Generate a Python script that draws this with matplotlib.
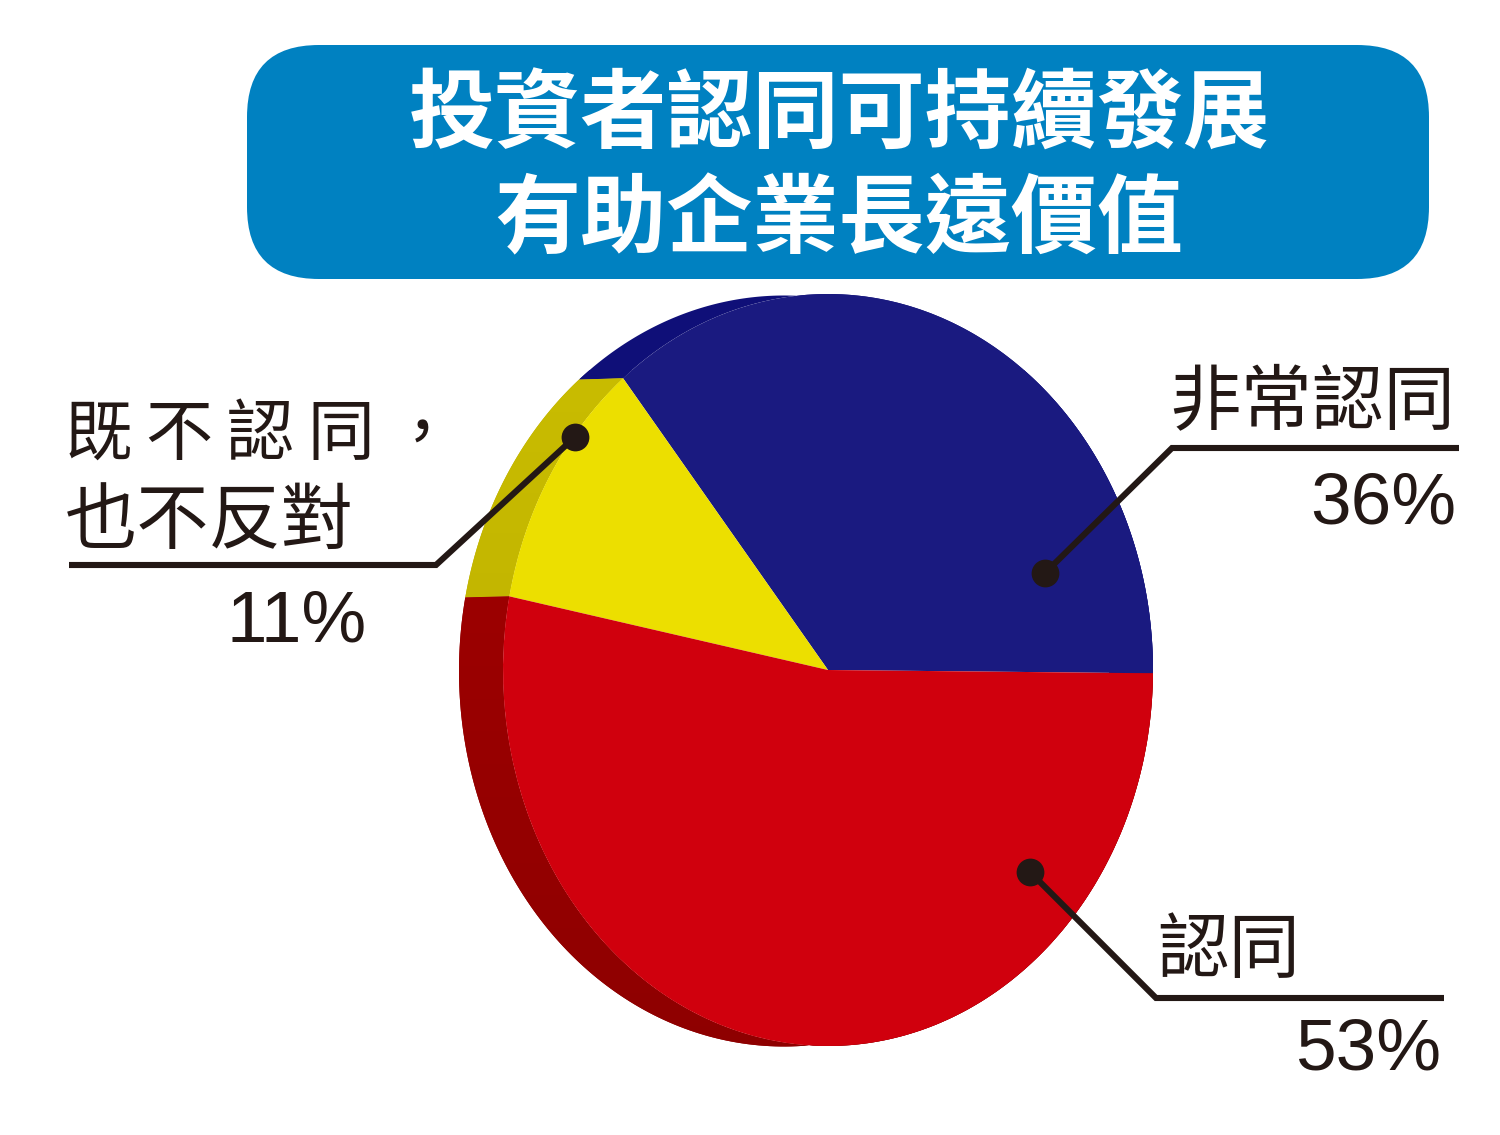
import matplotlib
matplotlib.use("Agg")
import matplotlib.pyplot as plt
from matplotlib.patches import FancyBboxPatch, Polygon
from matplotlib.colors import LinearSegmentedColormap
import numpy as np

# data
title_lines = ["投資者認同可持續發展", "有助企業長遠價值"]
shares = [36, 11, 53]
face_colors = ["#1a1a80", "#ecdf00", "#d0000d"]
side_tops = ["#0f0f78", "#c9bc00", "#a30000"]
side_bottoms = ["#0f0f78", "#b8ab00", "#8e0000"]
label_names = ["非常認同", "既\u2009不\u2009認\u2009同\u2009，", "也不反對", "認同"]
label_pcts = ["36%", "11%", "53%"]

W, H = 1500, 1135
INK = "#231815"
CJK = ["Noto Sans CJK TC", "DejaVu Sans"]
START = -0.5
CX, CY, RX, RY = 828, 670, 325, 376
DEPTH = 44

fig = plt.figure(figsize=(W / 100, H / 100), dpi=100, facecolor="white")

# underlay in pixel coordinates: extruded side
ax_side = fig.add_axes([0, 0, 1, 1], facecolor="none")
ax_side.axis("off")
angle = START
for share, c0, c1 in zip(shares, side_tops, side_bottoms):
    t = np.radians(np.linspace(angle, angle + share * 3.6, 200))
    angle += share * 3.6
    front = np.c_[CX + RX * np.cos(t), CY - RY * np.sin(t)]
    back = np.c_[CX - DEPTH + RX * np.cos(t), CY + 1 - (RY - 0.5) * np.sin(t)]
    poly = Polygon(np.r_[front, back[::-1]], closed=True, fc=c1, ec="none", transform=ax_side.transData)
    ax_side.add_patch(poly)
    cmap = LinearSegmentedColormap.from_list("s", [c0, c1])
    im = ax_side.imshow(np.linspace(0, 1, 256)[:, None], cmap=cmap, extent=(0, W, 1060, 370),
                        aspect="auto", zorder=3)
    im.set_clip_path(poly)
ax_side.set_xlim(0, W)
ax_side.set_ylim(H, 0)
ax_side.set_aspect("auto")

# front face
ax_face = fig.add_axes([(CX - RX) / W, 1 - (CY + RY) / H, 2 * RX / W, 2 * RY / H])
ax_face.pie(shares, colors=face_colors, startangle=START, counterclock=True, radius=1.0)
ax_face.set_xlim(-1, 1)
ax_face.set_ylim(-1, 1)
ax_face.set_aspect("auto")
ax_face.axis("off")

# overlay in pixel coordinates
ax = fig.add_axes([0, 0, 1, 1], facecolor="none")
ax.set_xlim(0, W)
ax.set_ylim(H, 0)
ax.axis("off")

ax.add_patch(FancyBboxPatch((247, 45), 1182, 234, boxstyle="round,pad=0,rounding_size=72",
                            fc="#0081c1", ec="none", zorder=2))
for line, y in zip(title_lines, [116, 221]):
    ax.text(839, y, line, color="white", fontsize=62, fontweight="black", family=CJK,
            ha="center", va="center", zorder=3)

LW = 4.4
leaders = [
    ([1045, 1172, 1459], [573, 448, 448]),
    ([575, 436, 69], [437, 565, 565]),
    ([1030, 1156, 1444], [872, 998, 998]),
]
for xs, ys in leaders:
    ax.plot(xs, ys, color=INK, lw=LW, solid_joinstyle="miter", solid_capstyle="butt", zorder=4)
    ax.plot(xs[0], ys[0], "o", color=INK, ms=20, mew=0, zorder=5)

ax.text(1455, 403, label_names[0], fontsize=51.5, color=INK, family=CJK, ha="right", va="center")
ax.text(65, 436, label_names[1], fontsize=48.5, color=INK, family=CJK, ha="left", va="center")
ax.text(65, 522, label_names[2], fontsize=52, color=INK, family=CJK, ha="left", va="center")
ax.text(1157, 951, label_names[3], fontsize=51.5, color=INK, family=CJK, ha="left", va="center")

for txt, x, y in zip(label_pcts, [1456, 367, 1441], [524, 641, 1070]):
    ax.text(x, y, txt, fontsize=52.5, color=INK, family="Liberation Sans", ha="right", va="baseline")

fig.savefig("out.png", dpi=100, facecolor="white")
